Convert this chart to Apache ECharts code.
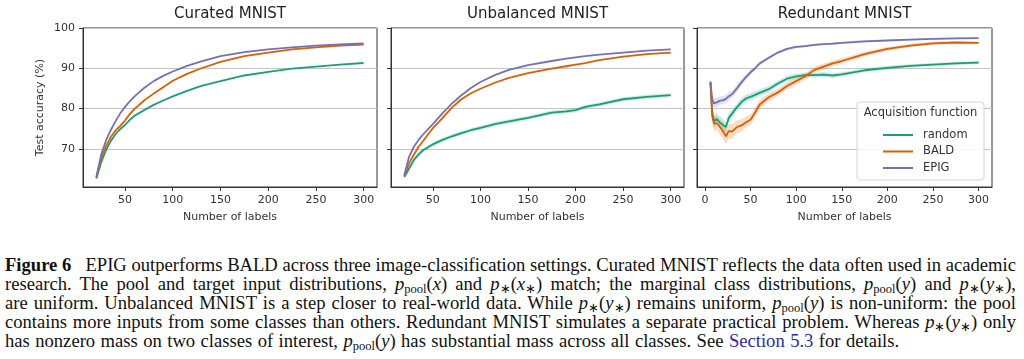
<!DOCTYPE html>
<html>
<head>
<meta charset="utf-8">
<script src="https://cdn.jsdelivr.net/npm/echarts@6/dist/echarts.min.js"></script>
<style>
  html, body { margin: 0; padding: 0; background: #fff; }
  #wrap { position: relative; width: 1024px; height: 359px; overflow: hidden; }
  #chart { position: absolute; left: 0; top: 0; width: 1024px; height: 240px; }
  #caption { position: absolute; left: 5px; top: 255px; width: 1011px;
    font-family: "Liberation Serif", "Times New Roman", serif; font-size: 18.6px; line-height: 19px; color: #111; }
  #caption .j { text-align: justify; text-align-last: justify; white-space: nowrap; }
  #caption .l { text-align: left; white-space: nowrap; word-spacing: 0.8px; }
  #caption sub { font-size: 12.5px; line-height: 0; vertical-align: -3px; }
  #caption i { font-style: italic; }
  #caption .lnk { color: #2a2aa5; }
</style>
</head>
<body>
<div id="wrap">
  <div id="chart"></div>
  <div id="caption">
    <div class="j"><b>Figure 6</b>&ensp; EPIG outperforms BALD across three image-classification settings. Curated MNIST reflects the data often used in academic</div>
    <div class="j">research. The pool and target input distributions, <i>p</i><sub>pool</sub>(<i>x</i>) and <i>p</i><sub>∗</sub>(<i>x</i><sub>∗</sub>) match; the marginal class distributions, <i>p</i><sub>pool</sub>(<i>y</i>) and <i>p</i><sub>∗</sub>(<i>y</i><sub>∗</sub>),</div>
    <div class="j">are uniform. Unbalanced MNIST is a step closer to real-world data. While <i>p</i><sub>∗</sub>(<i>y</i><sub>∗</sub>) remains uniform, <i>p</i><sub>pool</sub>(<i>y</i>) is non-uniform: the pool</div>
    <div class="j">contains more inputs from some classes than others. Redundant MNIST simulates a separate practical problem. Whereas <i>p</i><sub>∗</sub>(<i>y</i><sub>∗</sub>) only</div>
    <div class="l">has nonzero mass on two classes of interest, <i>p</i><sub>pool</sub>(<i>y</i>) has substantial mass across all classes. See <span class="lnk">Section 5.3</span> for details.</div>
  </div>
</div>
<script>
// ---------- data ----------
const panelTitles = ["Curated MNIST", "Unbalanced MNIST", "Redundant MNIST"];
const seriesNames = ["random", "BALD", "EPIG"];
const yTicks = [70, 80, 90, 100];
const xTicksA = [50, 100, 150, 200, 250, 300];
const xTicksB = [0, 50, 100, 150, 200, 250, 300];

const curatedX = [20,25,30,35,40,45,50,55,60,70,80,90,100,115,130,150,175,200,225,250,275,300];
const curatedEPIG = [63.0,68.5,72.0,74.6,76.8,78.8,80.4,81.8,83.0,85.1,86.8,88.1,89.2,90.6,91.7,93.0,94.0,94.7,95.2,95.6,95.9,96.2];
const curatedBALD = [62.8,67.6,70.6,72.9,74.5,75.7,77.0,78.6,79.9,82.0,83.7,85.3,86.9,88.6,90.0,91.6,93.0,93.9,94.7,95.2,95.6,95.9];
const curatedRandom = [62.6,66.6,69.6,71.9,73.6,74.9,75.9,77.2,78.2,79.6,80.9,82.0,83.0,84.4,85.6,86.8,88.2,89.1,89.9,90.4,90.9,91.3];

const unbalX = [20,25,30,35,40,45,50,60,70,80,90,100,115,130,150,175,190,200,210,225,250,275,300];
const unbalEPIG = [63.4,68.0,70.5,72.2,73.6,74.9,76.1,78.8,81.2,83.3,85.1,86.6,88.3,89.6,90.8,91.8,92.4,92.7,93.0,93.4,93.9,94.4,94.7];
const unbalBALD = [63.2,66.4,68.5,70.5,72.0,73.6,75.1,77.6,80.2,82.3,83.8,84.9,86.4,87.6,88.8,89.9,90.5,90.9,91.3,92.0,92.9,93.5,93.9];
const unbalRandom = [63.0,65.1,67.2,68.6,69.7,70.4,71.1,72.2,73.1,73.9,74.6,75.2,76.1,76.8,77.7,79.0,79.3,79.6,80.4,81.0,82.3,82.9,83.3];
const unbalRandomBand = [0.4,0.5,0.5,0.5,0.5,0.5,0.5,0.5,0.5,0.5,0.5,0.5,0.5,0.5,0.5,0.5,0.5,0.5,0.5,0.5,0.5,0.5,0.5];

const redX = [6,8,10,13,16,20,23,26,30,35,40,45,50,55,60,70,80,90,100,110,120,130,140,150,175,200,225,250,275,300];
const redEPIG = [86.7,82.3,81.3,81.5,81.9,82.1,82.4,83.0,83.6,85.0,86.5,87.8,89.0,90.0,91.2,92.6,93.9,94.8,95.3,95.5,95.8,96.0,96.1,96.3,96.7,96.9,97.1,97.3,97.4,97.5];
const redBALD = [86.5,78.0,76.2,76.4,75.6,74.3,73.1,74.4,74.3,75.4,75.8,76.6,77.2,79.0,81.0,82.8,84.0,85.6,86.8,88.0,89.6,90.4,91.2,91.8,93.5,94.8,95.6,96.2,96.4,96.3];
const redRandom = [86.6,79.2,76.8,77.4,76.6,75.9,75.4,77.6,78.8,80.3,81.6,82.5,82.9,83.4,83.9,84.8,86.2,87.4,88.0,88.3,88.3,88.4,88.2,88.5,89.5,90.1,90.6,90.9,91.2,91.4];
const redEPIGBand = [0.8,1.2,1.2,1.1,1.0,1.0,1.0,1.0,0.9,0.9,0.8,0.7,0.6,0.5,0.5,0.4,0.3,0.3,0.3,0.3,0.3,0.3,0.3,0.3,0.3,0.2,0.2,0.2,0.2,0.2];
const redBALDBand = [0.8,1.6,1.8,1.8,1.9,2.0,2.0,1.9,1.8,1.6,1.5,1.4,1.3,1.2,1.1,1.0,0.9,0.9,0.9,0.9,0.8,0.8,0.7,0.7,0.6,0.5,0.4,0.4,0.3,0.3];
const redRandomBand = [0.8,1.5,1.6,1.5,1.5,1.4,1.3,1.2,1.1,1.0,1.0,0.9,0.9,0.9,0.8,0.8,0.7,0.7,0.7,0.6,0.6,0.6,0.6,0.5,0.5,0.5,0.4,0.4,0.4,0.4];

// ---------- style ----------
const COLORS = { random: '#1b9e77', BALD: '#d95f02', EPIG: '#7570b3' };
const FONT = '"DejaVu Sans", sans-serif';
const TXT = '#333';
const grids = [
  { left: 83, top: 28, width: 294, height: 159 },
  { left: 391, top: 28, width: 293, height: 159 },
  { left: 697, top: 28, width: 295, height: 159 }
];
const xRanges = [[6, 314], [6, 314], [-8.7, 314.7]];

const panels = [
  { x: curatedX, s: { random: curatedRandom, BALD: curatedBALD, EPIG: curatedEPIG }, b: {} },
  { x: unbalX, s: { random: unbalRandom, BALD: unbalBALD, EPIG: unbalEPIG }, b: { random: unbalRandomBand } },
  { x: redX, s: { random: redRandom, BALD: redBALD, EPIG: redEPIG }, b: { random: redRandomBand, BALD: redBALDBand, EPIG: redEPIGBand } }
];

const series = [];
panels.forEach((p, gi) => {
  seriesNames.forEach(name => {
    const ys = p.s[name];
    const hw = p.b[name];
    if (hw) {
      const bandData = p.x.map((x, i) => [x, ys[i] - hw[i], ys[i] + hw[i]]);
      const color = COLORS[name];
      series.push({
        type: 'custom', xAxisIndex: gi, yAxisIndex: gi, silent: true, z: 1,
        encode: { x: 0, y: [1, 2] },
        data: bandData,
        renderItem: function (params, api) {
          if (params.dataIndex !== 0) return null;
          const upper = bandData.map(d => api.coord([d[0], d[2]]));
          const lower = bandData.map(d => api.coord([d[0], d[1]])).reverse();
          return { type: 'polygon', shape: { points: upper.concat(lower) },
                   style: { fill: color, opacity: 0.22 } };
        },
        animation: false
      });
    }
    series.push({
      type: 'line', name: name, xAxisIndex: gi, yAxisIndex: gi,
      data: p.x.map((x, i) => [x, ys[i]]), symbol: 'none', showSymbol: false,
      lineStyle: { color: COLORS[name], width: 1.8 }, itemStyle: { color: COLORS[name] },
      z: 3, animation: false
    });
  });
});

const option = {
  animation: false,
  textStyle: { fontFamily: FONT },
  grid: grids.map(g => Object.assign({ show: true, borderColor: '#333', borderWidth: 1, containLabel: false, outerBoundsMode: 'none' }, g)),
  xAxis: grids.map((g, gi) => ({
    type: 'value', gridIndex: gi, min: xRanges[gi][0], max: xRanges[gi][1],
    name: 'Number of labels', nameLocation: 'middle', nameGap: 25,
    nameTextStyle: { fontFamily: FONT, fontSize: 11, color: TXT },
    axisLine: { show: true, onZero: false, lineStyle: { color: '#333', width: 1 } },
    axisTick: { show: true, inside: false, length: 4, lineStyle: { color: '#333' }, customValues: gi === 2 ? xTicksB : xTicksA },
    axisLabel: { show: true, margin: 8, fontFamily: FONT, fontSize: 11, color: TXT, customValues: gi === 2 ? xTicksB : xTicksA },
    splitLine: { show: false }
  })),
  yAxis: grids.map((g, gi) => ({
    type: 'value', gridIndex: gi, min: 60.5, max: 100,
    name: gi === 0 ? 'Test accuracy (%)' : '', nameLocation: 'middle', nameGap: 37,
    nameTextStyle: { fontFamily: FONT, fontSize: 11, color: TXT },
    axisLine: { show: true, onZero: false, lineStyle: { color: '#333', width: 1 } },
    axisTick: { show: true, inside: false, length: 4, lineStyle: { color: '#333' }, customValues: yTicks },
    axisLabel: { show: gi === 0, margin: 8, fontFamily: FONT, fontSize: 11, color: TXT, customValues: yTicks },
    splitLine: { show: true, lineStyle: { color: '#c4c4c4', width: 1.2 } }
  })),
  legend: {
    data: seriesNames, orient: 'vertical', left: 878, top: 124, z: 20,
    icon: 'rect', itemWidth: 30, itemHeight: 2, itemGap: 4.5,
    textStyle: { fontFamily: FONT, fontSize: 11.5, color: TXT, padding: [0, 0, 0, 5] },
    selectedMode: false
  },
  graphic: [
    ...panelTitles.map((t, i) => ({
      type: 'text', x: grids[i].left + grids[i].width / 2, y: 14.5, z: 20,
      style: { text: t, font: '15px "DejaVu Sans", sans-serif', fill: '#222', textAlign: 'center', textVerticalAlign: 'middle' }
    })),
    { type: 'rect', x: 857, y: 102, z: 15,
      shape: { width: 127, height: 78, r: 3 },
      style: { fill: 'rgba(255,255,255,0.85)', stroke: '#d4d4d4', lineWidth: 1 } },
    { type: 'text', x: 920.5, y: 113, z: 20,
      style: { text: 'Acquisition function', font: '11.5px "DejaVu Sans", sans-serif', fill: TXT, textAlign: 'center', textVerticalAlign: 'middle' } }
  ],
  series: series
};

const chart = echarts.init(document.getElementById('chart'), null, { renderer: 'canvas' });
chart.setOption(option);
</script>
</body>
</html>
